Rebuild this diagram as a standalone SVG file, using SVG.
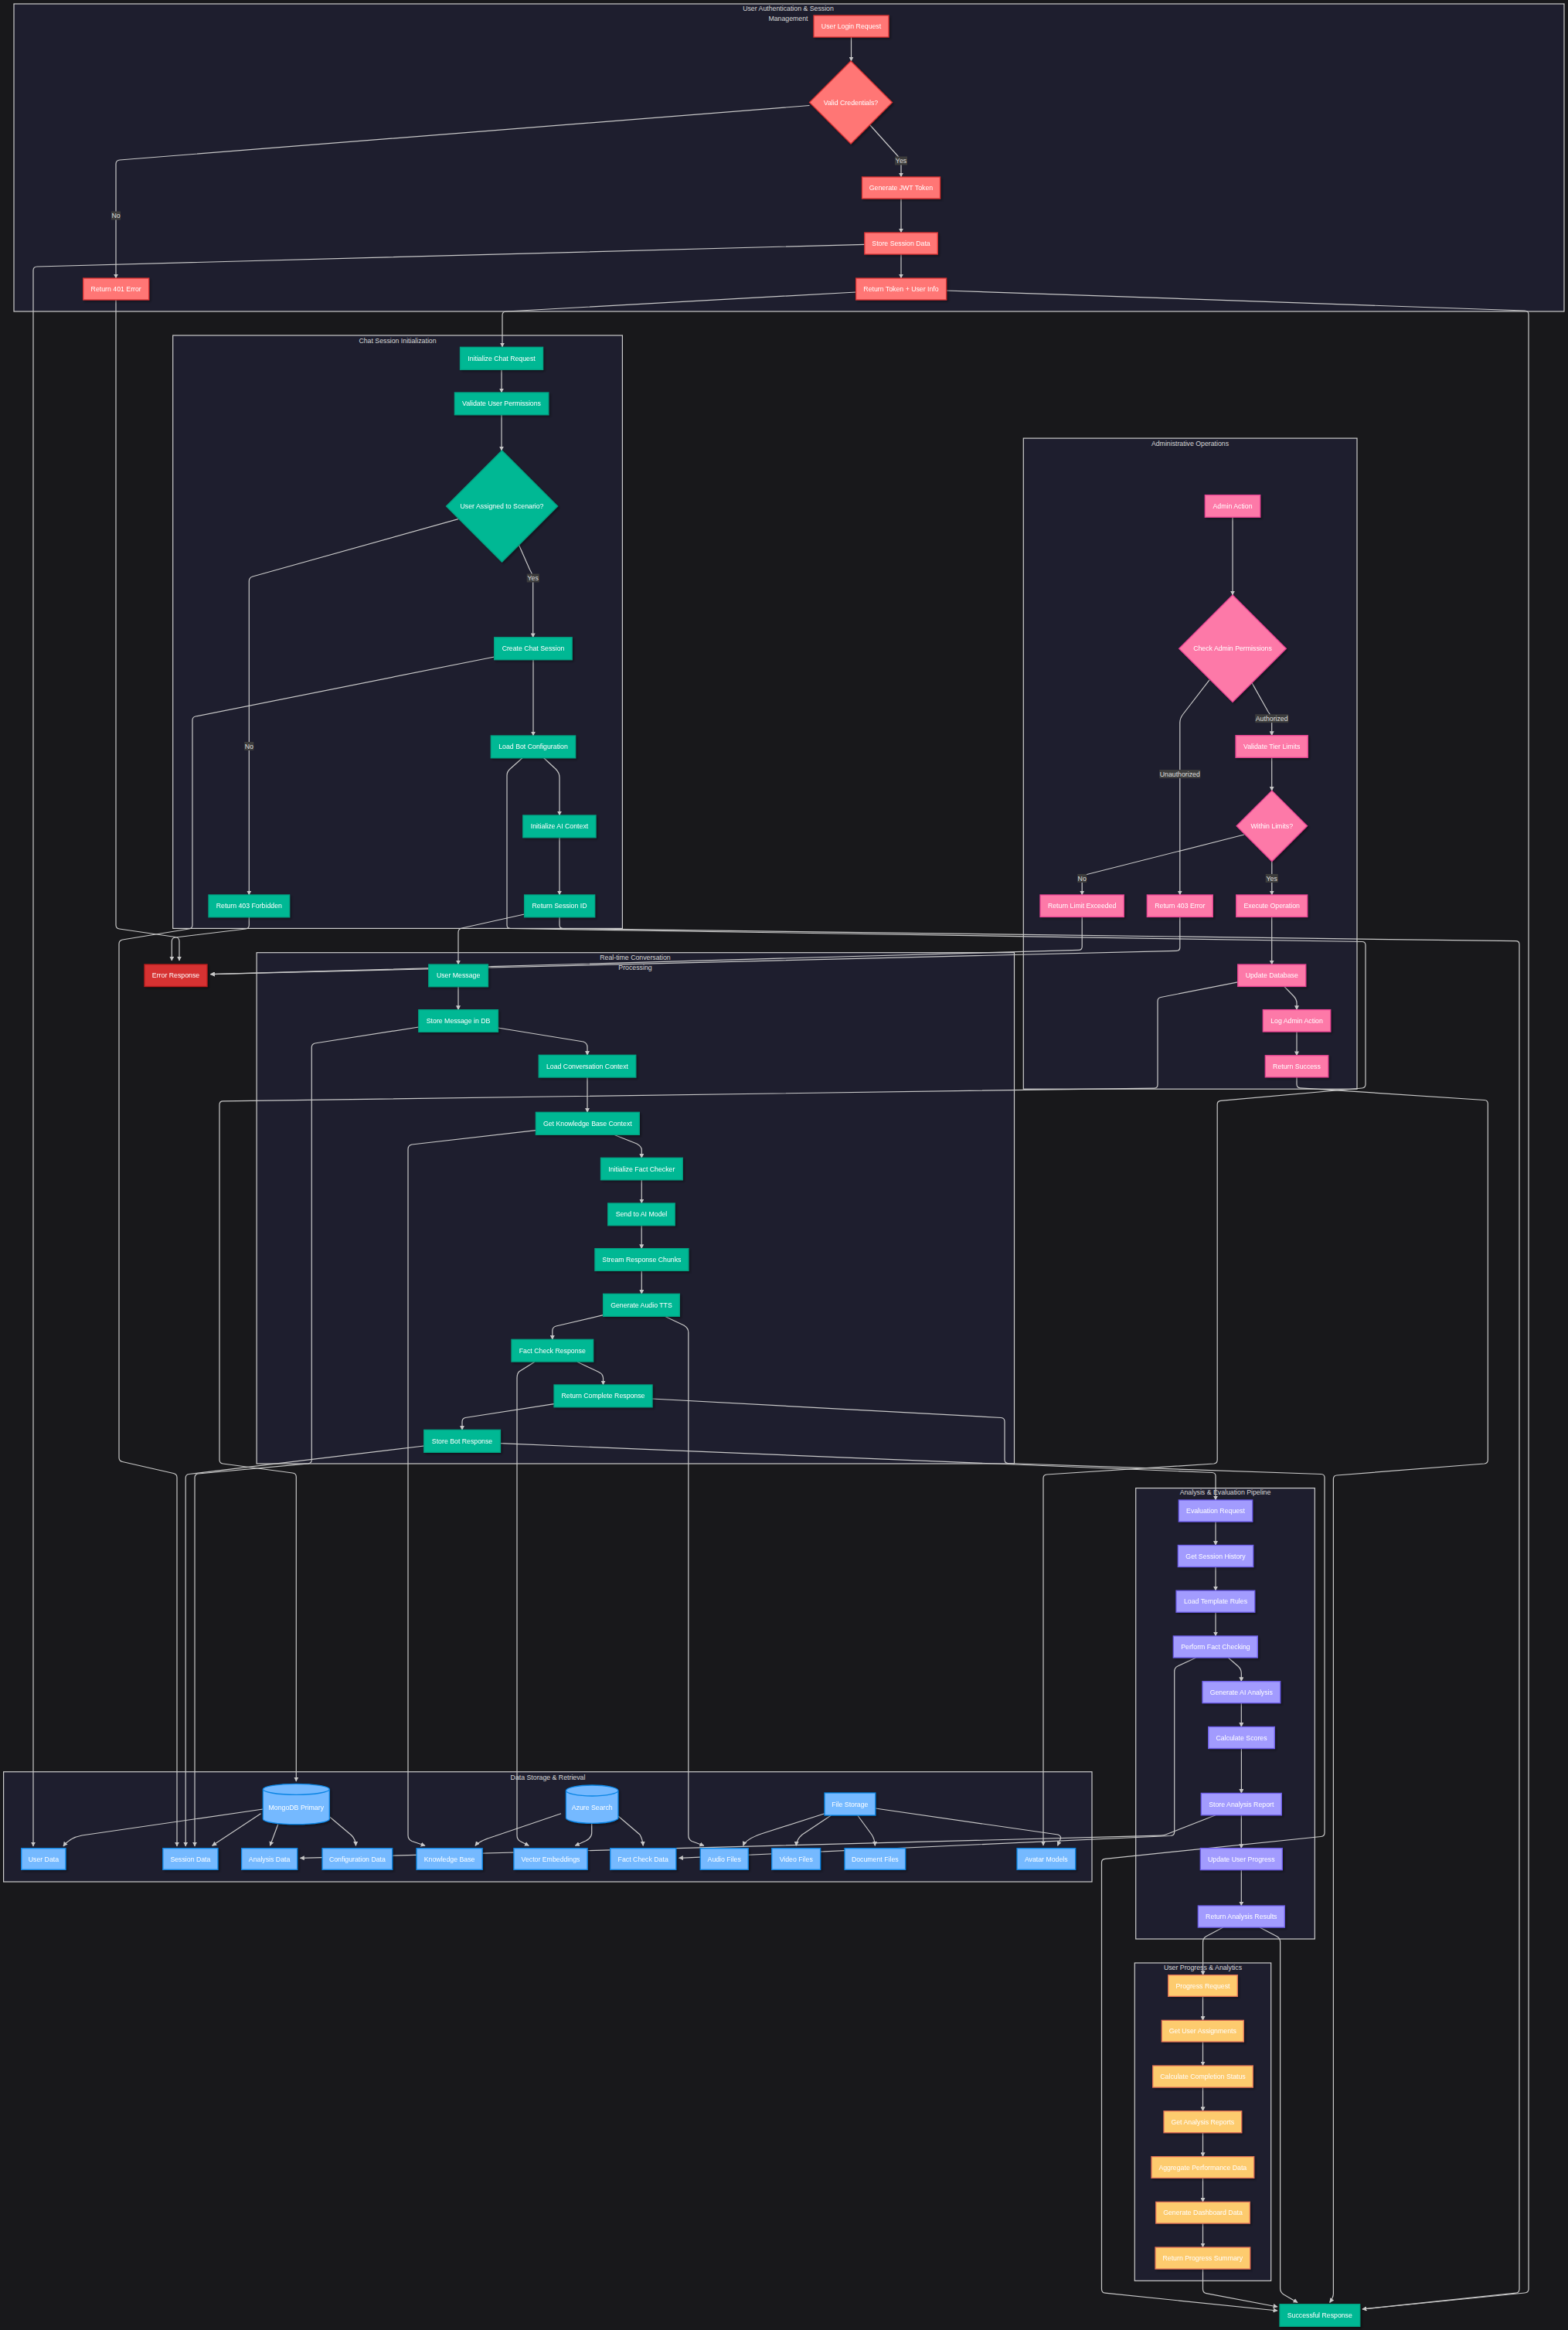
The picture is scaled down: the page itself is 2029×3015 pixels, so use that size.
<svg xmlns="http://www.w3.org/2000/svg" width="2029" height="3015" viewBox="0 0 2029 3015">
<defs>
<marker id="ah" viewBox="0 0 10 10" refX="9" refY="5" markerWidth="6" markerHeight="6" markerUnits="userSpaceOnUse" orient="auto"><path d="M0,0 L10,5 L0,10 z" fill="#c8c8c8"/></marker>
<filter id="sh" x="-20%" y="-20%" width="140%" height="140%"><feDropShadow dx="2" dy="2" stdDeviation="1.5" flood-color="#000" flood-opacity="0.35"/></filter>
</defs>
<style>
.cl{fill:#1e1e2e;stroke:#cccccc;stroke-width:1.2}
.ct{fill:#d8d8d8;font-family:"Liberation Sans",Arial,sans-serif;font-size:8.75px;text-anchor:middle;dominant-baseline:central}
.e{fill:none;stroke:#c8c8c8;stroke-width:1.2;marker-end:url(#ah)}
.t{fill:#ffffff;font-family:"Liberation Sans",Arial,sans-serif;font-size:8.75px;text-anchor:middle;dominant-baseline:central}
.n{filter:url(#sh)}
.a{fill:#ff7675;stroke:#d63031;stroke-width:1.3}
.c{fill:#00b894;stroke:#00a383;stroke-width:1.3}
.r{fill:#d63031;stroke:#b71c1c;stroke-width:1.3}
.d{fill:#fd79a8;stroke:#e84393;stroke-width:1.3}
.v{fill:#a29bfe;stroke:#6c5ce7;stroke-width:1.3}
.p{fill:#fdcb6e;stroke:#e17055;stroke-width:1.3}
.s{fill:#74b9ff;stroke:#0984e3;stroke-width:1.3}
.lb{fill:#3c3c3c}
.lt{fill:#dddddd;font-family:"Liberation Sans",Arial,sans-serif;font-size:8.75px;text-anchor:middle;dominant-baseline:central}
</style>
<rect width="2029" height="3015" fill="#18181b"/>

<g id="clusters">
<g id="cl-auth"><rect class="cl" x="18" y="5" width="2006" height="398"/><text class="ct" x="1020" y="11">User Authentication &amp; Session</text><text class="ct" x="1020" y="24">Management</text></g>
<g id="cl-chat"><rect class="cl" x="223.7" y="434" width="581.7" height="767.4"/><text class="ct" x="514.5" y="441">Chat Session Initialization</text></g>
<g id="cl-admin"><rect class="cl" x="1324.3" y="567.1" width="431.7" height="842.1"/><text class="ct" x="1540" y="573.7">Administrative Operations</text></g>
<g id="cl-rt"><rect class="cl" x="332.1" y="1232.7" width="980.4" height="661.3"/><text class="ct" x="822" y="1239">Real-time Conversation</text><text class="ct" x="822" y="1252.3">Processing</text></g>
<g id="cl-data"><rect class="cl" x="4.6" y="2292.7" width="1408.4" height="142.3"/><text class="ct" x="709" y="2300">Data Storage &amp; Retrieval</text></g>
<g id="cl-analysis"><rect class="cl" x="1469.7" y="1925.6" width="231.6" height="583.4"/><text class="ct" x="1585.5" y="1931.4">Analysis &amp; Evaluation Pipeline</text></g>
<g id="cl-progress"><rect class="cl" x="1468.3" y="2540" width="176.4" height="411.3"/><text class="ct" x="1556.5" y="2545.7">User Progress &amp; Analytics</text></g>
</g>

<g id="connectors">
<path class="e" d="M1101.5,48 V79"/>
<path class="e" d="M1126,162 L1161,201 Q1166,206 1166,212 V229"/>
<path class="e" d="M1047.5,136.5 L155,207 Q150,207.6 150,212 V360"/>
<path class="e" d="M1166,257 V301"/>
<path class="e" d="M1166,329 V360"/>
<path class="e" d="M1119,316.3 L48,345 Q43,345.2 43,350 V2389"/>
<path class="e" d="M1108,378 L655,403 Q650,403.3 650,408 V449"/>
<path class="e" d="M1224.4,376 L1973,402 Q1978,402.2 1978,407 V2962 Q1978,2966.5 1973,2967 L1763,2988"/>
<path class="e" d="M150,388 V1197 Q150,1201.4 154.5,1202 L227,1212.5 Q232,1213.3 232,1218 V1243"/>
<path class="e" d="M649,478 V508"/>
<path class="e" d="M649,536.7 V583"/>
<path class="e" d="M671.4,705 L685.5,737 Q689.7,744 689.7,750 V824.8"/>
<path class="e" d="M592.9,671.6 L327,746 Q322.3,747.4 322.3,752 V1158"/>
<path class="e" d="M690,853.6 V952"/>
<path class="e" d="M703.6,980.7 L719,995 Q724,1000 724,1006 V1055"/>
<path class="e" d="M724,1083.7 V1158"/>
<path class="e" d="M639.7,850 L253,927 Q249,928 249,932 V1197 Q249,1201.4 244.5,1202 L158.5,1216 Q154,1217 154,1221.5 V1886 Q154,1890.7 158.5,1891.5 L224.5,1906.5 Q229,1907.5 229,1912 V2389"/>
<path class="e" d="M322.3,1186.7 V1197 Q322.3,1201.4 318,1202 L227,1213 Q222.3,1213.6 222.3,1218 V1243"/>
<path class="e" d="M678.6,1183 L597.5,1201 Q593,1202 593,1206.5 V1248"/>
<path class="e" d="M724,1186.7 V1197 Q724,1201.3 728.5,1201.5 L1961.5,1217.7 Q1966,1217.8 1966,1222 V2962 Q1966,2966.7 1961.5,2967.2 L1763,2988"/>
<path class="e" d="M676,980.7 L660,995 Q656,998.5 656,1003.5 V1197 Q656,1201.4 660.5,1201.5 L1762.5,1218.5 Q1767,1218.6 1767,1223 V1403 Q1767,1407.5 1762.5,1408 L1579.5,1424.4 Q1575.2,1424.8 1575.2,1429 V1889 Q1575.2,1893.5 1570.7,1894 L1354.5,1908 Q1350,1908.4 1350,1913 V2388"/>
<path class="e" d="M593,1276.7 V1306.7"/>
<path class="e" d="M644.4,1330 L755,1348 Q760,1350 760,1355 V1365.3"/>
<path class="e" d="M760,1394 V1439.3"/>
<path class="e" d="M794.4,1468.3 L824,1480 Q830.3,1483.5 830.3,1488 V1498.3"/>
<path class="e" d="M830.3,1526.7 V1557"/>
<path class="e" d="M830.2,1585.7 V1615.7"/>
<path class="e" d="M830.3,1644.3 V1674.3"/>
<path class="e" d="M780.6,1701.7 L719.5,1716 Q714.8,1717.5 714.8,1722 V1733.3"/>
<path class="e" d="M747,1762.3 L774,1775 Q780.5,1778 780.5,1783 V1792"/>
<path class="e" d="M717,1816.7 L602,1834.5 Q598,1835.5 598,1840 V1850.3"/>
<path class="e" d="M541.8,1329 L407.5,1350 Q403.3,1351 403.3,1355.5 V1889 Q403.3,1893.3 399,1893.8 L256.5,1907 Q252,1907.6 252,1912 V2389"/>
<path class="e" d="M693.4,1462.7 L533,1481 Q528,1482 528,1487 V2375 Q528,2380 533,2382.5 L550,2388.3"/>
<path class="e" d="M691.8,1762.3 L671.5,1775 Q669,1778 669,1783 V2375 Q669,2380 673,2382.5 L684.3,2388.3"/>
<path class="e" d="M860.2,1703.3 L885,1715 Q890.8,1718.5 890.8,1724 V2375 Q890.8,2380 895,2382.5 L910.9,2388.3"/>
<path class="e" d="M844,1810 L1295.5,1834.5 Q1300,1835 1300,1839.5 V1889 Q1300,1893.3 1304.5,1893.5 L1709.5,1907.5 Q1714,1907.7 1714,1912 V2371.5 Q1714,2376 1709.5,2376.5 L1430,2405.3 Q1425.5,2405.8 1425.5,2410 V2962 Q1425.5,2966.7 1430,2967.2 L1653,2990"/>
<path class="e" d="M548.7,1871 L244.5,1907.5 Q240.2,1908 240.2,1912.5 V2389"/>
<path class="e" d="M647.4,1867.7 L1568.5,1905.5 Q1573,1905.7 1573,1910 V1941"/>
<path class="e" d="M1400.2,1186.4 V1225 Q1400.2,1229.3 1395.7,1229.4 L272.4,1260.7"/>
<path class="e" d="M1526.8,1186.4 V1226 Q1526.8,1230.3 1522.3,1230.4 L272.4,1260.7"/>
<path class="e" d="M1595,669.2 V770"/>
<path class="e" d="M1620,883.6 L1641,921 Q1645.7,927 1645.7,933 V951.7"/>
<path class="e" d="M1565,879.8 L1531,924 Q1526.8,929.5 1526.8,935 V1158"/>
<path class="e" d="M1645.7,980.2 V1023.1"/>
<path class="e" d="M1645.8,1114.5 V1158"/>
<path class="e" d="M1610,1080 L1404.5,1132 Q1400.2,1133.2 1400.2,1138 V1158"/>
<path class="e" d="M1645.7,1186.4 V1248"/>
<path class="e" d="M1661.7,1276.4 L1674,1289 Q1678,1293.5 1678,1298 V1306.6"/>
<path class="e" d="M1678,1335 V1365.8"/>
<path class="e" d="M1601.7,1270.8 L1502,1290.5 Q1498,1291.3 1498,1295.7 V1403.5 Q1498,1408 1493.5,1408.1 L288.5,1424.9 Q284,1425 284,1429.5 V1889 Q284,1893.3 288.5,1894 L378.5,1906 Q383.3,1906.6 383.3,1911 V2305"/>
<path class="e" d="M1678,1393.8 V1403 Q1678,1407.5 1682.5,1407.8 L1920.8,1423.5 Q1925.3,1423.8 1925.3,1428.3 V1889 Q1925.3,1893.5 1920.8,1894 L1729.9,1909 Q1725.4,1909.3 1725.4,1913.8 V2968 Q1725.4,2972.6 1720.7,2979.4"/>
<path class="e" d="M1573,1969 V1999.5"/>
<path class="e" d="M1573,2027.5 V2058.2"/>
<path class="e" d="M1573,2086.2 V2117"/>
<path class="e" d="M1589.3,2145 L1602,2156 Q1606.3,2160 1606.3,2165 V2175.7"/>
<path class="e" d="M1606.3,2203.7 V2234.5"/>
<path class="e" d="M1606.4,2262.5 V2320.4"/>
<path class="e" d="M1606.3,2348.8 V2391.6"/>
<path class="e" d="M1606.3,2419.6 V2466"/>
<path class="e" d="M1547.7,2145 L1524,2156 Q1519.7,2158 1519.7,2163 V2370.5 Q1519.7,2375 1515,2375.5 L878.5,2404.3"/>
<path class="e" d="M1573,2348.8 L1511,2373 Q1506.7,2375 1502,2375.2 L388.4,2404.3"/>
<path class="e" d="M1582.7,2494 L1561,2505.5 Q1556.6,2508 1556.6,2513 V2555.7"/>
<path class="e" d="M1630,2494 L1652,2505.5 Q1656.6,2508 1656.6,2513 V2961 Q1656.6,2966 1661,2969 L1679,2979.4"/>
<path class="e" d="M1556.5,2583.3 V2614.3"/>
<path class="e" d="M1556.5,2642 V2673"/>
<path class="e" d="M1556.5,2701 V2731.7"/>
<path class="e" d="M1556.5,2759.7 V2790.7"/>
<path class="e" d="M1556.5,2818.3 V2849.3"/>
<path class="e" d="M1556.5,2877 V2908"/>
<path class="e" d="M1556.5,2936 V2962 Q1556.5,2966.7 1561,2967.6 L1653,2985"/>
<path class="e" d="M340.3,2341 L106,2375 Q90,2378 82,2389"/>
<path class="e" d="M337.5,2346.7 L274.6,2388.3"/>
<path class="e" d="M359.7,2360.7 L349.5,2388.3"/>
<path class="e" d="M425.4,2350 L455,2375 Q460,2380 460.5,2388.3"/>
<path class="e" d="M726,2346.7 L640,2376 Q620,2382 615,2388.3"/>
<path class="e" d="M765.7,2359.3 V2372 Q765.7,2378 758,2382 L744.4,2388.3"/>
<path class="e" d="M800,2350 L828,2374 Q831.5,2380 832.2,2388.3"/>
<path class="e" d="M1067,2346.7 L985,2373 Q965,2380 961.7,2388.3"/>
<path class="e" d="M1075.5,2349 L1038,2374 Q1031,2380 1030.2,2388.3"/>
<path class="e" d="M1109.7,2349 L1128,2374 Q1132,2380 1132.3,2388.3"/>
<path class="e" d="M1132.8,2340 L1369,2374 Q1374,2376 1372,2380 L1368.6,2388.3"/>
</g>

<g id="edge-labels">
<g><rect class="lb" x="1158" y="202.5" width="16" height="11"/><text class="lt" x="1166" y="208">Yes</text></g>
<g><rect class="lb" x="144" y="273.5" width="12" height="11"/><text class="lt" x="150" y="279">No</text></g>
<g><rect class="lb" x="681.7" y="742.5" width="16" height="11"/><text class="lt" x="689.7" y="748">Yes</text></g>
<g><rect class="lb" x="316.3" y="960" width="12" height="11"/><text class="lt" x="322.3" y="965.5">No</text></g>
<g><rect class="lb" x="1624.2" y="924.2" width="43" height="11"/><text class="lt" x="1645.7" y="929.7">Authorized</text></g>
<g><rect class="lb" x="1500.3" y="996.1" width="53" height="11"/><text class="lt" x="1526.8" y="1001.6">Unauthorized</text></g>
<g><rect class="lb" x="1637.7" y="1131" width="16" height="11"/><text class="lt" x="1645.7" y="1136.5">Yes</text></g>
<g><rect class="lb" x="1394.2" y="1131" width="12" height="11"/><text class="lt" x="1400.2" y="1136.5">No</text></g>
</g>

<g id="nodes">
<g id="n-login" class="n"><rect class="a" x="1053" y="20" width="97" height="28"/><text class="t" x="1101.5" y="34">User Login Request</text></g>
<g id="n-valid" class="n"><polygon class="a" points="1101,79 1154.5,132.5 1101,186 1047.5,132.5"/><text class="t" x="1101" y="132.5">Valid Credentials?</text></g>
<g id="n-jwt" class="n"><rect class="a" x="1115.5" y="229" width="101" height="28"/><text class="t" x="1166" y="243">Generate JWT Token</text></g>
<g id="n-store" class="n"><rect class="a" x="1118.8" y="301" width="94.5" height="28"/><text class="t" x="1166" y="315">Store Session Data</text></g>
<g id="n-rettok" class="n"><rect class="a" x="1107.6" y="360" width="117" height="28"/><text class="t" x="1166" y="374">Return Token + User Info</text></g>
<g id="n-401" class="n"><rect class="a" x="107.7" y="360" width="85" height="28"/><text class="t" x="150.2" y="374">Return 401 Error</text></g>

<g id="n-initchat" class="n"><rect class="c" x="595.5" y="449.3" width="107" height="29"/><text class="t" x="649" y="463.8">Initialize Chat Request</text></g>
<g id="n-validperm" class="n"><rect class="c" x="588.4" y="508" width="121.4" height="28.7"/><text class="t" x="649" y="522.3">Validate User Permissions</text></g>
<g id="n-assigned" class="n"><polygon class="c" points="649.5,583 721.5,655 649.5,727 577.5,655"/><text class="t" x="649.5" y="655">User Assigned to Scenario?</text></g>
<g id="n-create" class="n"><rect class="c" x="639.7" y="824.8" width="100.5" height="28.8"/><text class="t" x="690" y="839.2">Create Chat Session</text></g>
<g id="n-loadbot" class="n"><rect class="c" x="635.3" y="952" width="109.3" height="28.7"/><text class="t" x="690" y="966.3">Load Bot Configuration</text></g>
<g id="n-initai" class="n"><rect class="c" x="676.8" y="1055" width="94.2" height="28.7"/><text class="t" x="724" y="1069.3">Initialize AI Context</text></g>
<g id="n-403f" class="n"><rect class="c" x="270" y="1158" width="104.6" height="28.7"/><text class="t" x="322.3" y="1172.3">Return 403 Forbidden</text></g>
<g id="n-sessid" class="n"><rect class="c" x="678.6" y="1158" width="91" height="28.7"/><text class="t" x="724" y="1172.3">Return Session ID</text></g>

<g id="n-err" class="n"><rect class="r" x="187" y="1248" width="81" height="28.5"/><text class="t" x="227.5" y="1262.2">Error Response</text></g>

<g id="n-usermsg" class="n"><rect class="c" x="554.8" y="1248" width="76.6" height="28.7"/><text class="t" x="593.1" y="1262.3">User Message</text></g>
<g id="n-storemsg" class="n"><rect class="c" x="541.8" y="1306.7" width="102.6" height="28.6"/><text class="t" x="593.1" y="1321">Store Message in DB</text></g>
<g id="n-loadconv" class="n"><rect class="c" x="697.2" y="1365.3" width="125.5" height="28.7"/><text class="t" x="760" y="1379.7">Load Conversation Context</text></g>
<g id="n-getkb" class="n"><rect class="c" x="693.4" y="1439.3" width="133.9" height="29"/><text class="t" x="760.3" y="1453.8">Get Knowledge Base Context</text></g>
<g id="n-initfc" class="n"><rect class="c" x="777.5" y="1498.3" width="105.7" height="28.4"/><text class="t" x="830.3" y="1512.5">Initialize Fact Checker</text></g>
<g id="n-sendai" class="n"><rect class="c" x="786.7" y="1557" width="86.5" height="28.7"/><text class="t" x="830" y="1571.3">Send to AI Model</text></g>
<g id="n-stream" class="n"><rect class="c" x="769.9" y="1615.7" width="121" height="28.6"/><text class="t" x="830.4" y="1630">Stream Response Chunks</text></g>
<g id="n-tts" class="n"><rect class="c" x="780.6" y="1674.3" width="98.7" height="29"/><text class="t" x="830" y="1688.8">Generate Audio TTS</text></g>
<g id="n-fcr" class="n"><rect class="c" x="662" y="1733.3" width="105.6" height="28.7"/><text class="t" x="714.8" y="1747.7">Fact Check Response</text></g>
<g id="n-retcomp" class="n"><rect class="c" x="717" y="1792" width="127" height="28.7"/><text class="t" x="780.5" y="1806.3">Return Complete Response</text></g>
<g id="n-storebot" class="n"><rect class="c" x="548.7" y="1850.3" width="98.7" height="29"/><text class="t" x="598" y="1864.8">Store Bot Response</text></g>

<g id="n-adminact" class="n"><rect class="d" x="1559.3" y="640.6" width="71.4" height="28.6"/><text class="t" x="1595" y="655">Admin Action</text></g>
<g id="n-checkadm" class="n"><polygon class="d" points="1595,770 1664.3,839.2 1595,908.4 1525.7,839.2"/><text class="t" x="1595" y="839.2">Check Admin Permissions</text></g>
<g id="n-validtier" class="n"><rect class="d" x="1599" y="951.7" width="93.3" height="28.5"/><text class="t" x="1645.7" y="966">Validate Tier Limits</text></g>
<g id="n-within" class="n"><polygon class="d" points="1645.8,1023.1 1691.5,1068.8 1645.8,1114.5 1600.1,1068.8"/><text class="t" x="1645.8" y="1068.8">Within Limits?</text></g>
<g id="n-retlimit" class="n"><rect class="d" x="1346" y="1158" width="108.3" height="28.4"/><text class="t" x="1400.2" y="1172.2">Return Limit Exceeded</text></g>
<g id="n-ret403e" class="n"><rect class="d" x="1484.3" y="1158" width="85" height="28.4"/><text class="t" x="1526.8" y="1172.2">Return 403 Error</text></g>
<g id="n-exec" class="n"><rect class="d" x="1599.7" y="1158" width="92" height="28.4"/><text class="t" x="1645.7" y="1172.2">Execute Operation</text></g>
<g id="n-updatedb" class="n"><rect class="d" x="1601.7" y="1248" width="88" height="28.4"/><text class="t" x="1645.7" y="1262.2">Update Database</text></g>
<g id="n-logadm" class="n"><rect class="d" x="1634.3" y="1306.6" width="87.4" height="28.4"/><text class="t" x="1678" y="1320.8">Log Admin Action</text></g>
<g id="n-retsucc" class="n"><rect class="d" x="1637.3" y="1365.8" width="81.4" height="28"/><text class="t" x="1678" y="1379.8">Return Success</text></g>

<g id="n-evalreq" class="n"><rect class="v" x="1525.3" y="1941" width="95.4" height="28"/><text class="t" x="1573" y="1955">Evaluation Request</text></g>
<g id="n-gsh" class="n"><rect class="v" x="1524.3" y="1999.5" width="97.4" height="28"/><text class="t" x="1573" y="2013.5">Get Session History</text></g>
<g id="n-ltr" class="n"><rect class="v" x="1522" y="2058.2" width="101.7" height="28"/><text class="t" x="1573" y="2072.2">Load Template Rules</text></g>
<g id="n-pfc" class="n"><rect class="v" x="1518.3" y="2117" width="109" height="28"/><text class="t" x="1573" y="2131">Perform Fact Checking</text></g>
<g id="n-gaa" class="n"><rect class="v" x="1556" y="2175.7" width="100.7" height="28"/><text class="t" x="1606.3" y="2189.7">Generate AI Analysis</text></g>
<g id="n-cs" class="n"><rect class="v" x="1563.7" y="2234.5" width="85.6" height="28"/><text class="t" x="1606.5" y="2248.5">Calculate Scores</text></g>
<g id="n-sar" class="n"><rect class="v" x="1554.3" y="2320.4" width="104" height="28.4"/><text class="t" x="1606.3" y="2334.6">Store Analysis Report</text></g>
<g id="n-uup" class="n"><rect class="v" x="1553.3" y="2391.6" width="106" height="28"/><text class="t" x="1606.3" y="2405.6">Update User Progress</text></g>
<g id="n-rar" class="n"><rect class="v" x="1550.3" y="2466" width="112" height="28"/><text class="t" x="1606.3" y="2480">Return Analysis Results</text></g>

<g id="n-preq" class="n"><rect class="p" x="1511.7" y="2555.7" width="89.6" height="27.6"/><text class="t" x="1556.5" y="2569.5">Progress Request</text></g>
<g id="n-gua" class="n"><rect class="p" x="1503.3" y="2614.3" width="106" height="27.7"/><text class="t" x="1556.3" y="2628.2">Get User Assignments</text></g>
<g id="n-ccs" class="n"><rect class="p" x="1491.7" y="2673" width="129.6" height="28"/><text class="t" x="1556.5" y="2687">Calculate Completion Status</text></g>
<g id="n-gar" class="n"><rect class="p" x="1506" y="2731.7" width="100.7" height="28"/><text class="t" x="1556.3" y="2745.7">Get Analysis Reports</text></g>
<g id="n-apd" class="n"><rect class="p" x="1490" y="2790.7" width="132.7" height="27.6"/><text class="t" x="1556.3" y="2804.5">Aggregate Performance Data</text></g>
<g id="n-gdd" class="n"><rect class="p" x="1495.7" y="2849.3" width="121.6" height="27.7"/><text class="t" x="1556.5" y="2863.2">Generate Dashboard Data</text></g>
<g id="n-rps" class="n"><rect class="p" x="1495" y="2908" width="122.7" height="28"/><text class="t" x="1556.3" y="2922">Return Progress Summary</text></g>
<g id="n-succ" class="n"><rect class="c" x="1656" y="2981.7" width="103.7" height="28.6"/><text class="t" x="1707.8" y="2996">Successful Response</text></g>

<g id="n-mongo" class="n"><path class="s" d="M340.3,2315.3 a43,7 0 0 0 86,0 a43,7 0 0 0 -86,0 v38.4 a43,7 0 0 0 86,0 v-38.4"/><text class="t" x="383.3" y="2339">MongoDB Primary</text></g>
<g id="n-azure" class="n"><path class="s" d="M732.4,2317 a33.75,7 0 0 0 67.5,0 a33.75,7 0 0 0 -67.5,0 v35.3 a33.75,7 0 0 0 67.5,0 v-35.3"/><text class="t" x="766.2" y="2339">Azure Search</text></g>
<g id="n-files" class="n"><rect class="s" x="1067" y="2320" width="65.8" height="29"/><text class="t" x="1099.9" y="2334.5">File Storage</text></g>
<g id="n-userdata" class="n"><rect class="s" x="27.7" y="2391.7" width="57.3" height="27.6"/><text class="t" x="56.4" y="2405.5">User Data</text></g>
<g id="n-sessdata" class="n"><rect class="s" x="210.8" y="2391.7" width="71.2" height="27.6"/><text class="t" x="246.4" y="2405.5">Session Data</text></g>
<g id="n-anadata" class="n"><rect class="s" x="312.6" y="2391.7" width="72.1" height="27.6"/><text class="t" x="348.6" y="2405.5">Analysis Data</text></g>
<g id="n-confdata" class="n"><rect class="s" x="417" y="2391.7" width="90.7" height="27.6"/><text class="t" x="462.4" y="2405.5">Configuration Data</text></g>
<g id="n-kb" class="n"><rect class="s" x="539" y="2391.7" width="85.2" height="27.6"/><text class="t" x="581.6" y="2405.5">Knowledge Base</text></g>
<g id="n-vec" class="n"><rect class="s" x="664.9" y="2391.7" width="95.2" height="27.6"/><text class="t" x="712.5" y="2405.5">Vector Embeddings</text></g>
<g id="n-fcd" class="n"><rect class="s" x="789.7" y="2391.7" width="85.1" height="27.6"/><text class="t" x="832.2" y="2405.5">Fact Check Data</text></g>
<g id="n-audio" class="n"><rect class="s" x="906.2" y="2391.7" width="62" height="27.6"/><text class="t" x="937.2" y="2405.5">Audio Files</text></g>
<g id="n-video" class="n"><rect class="s" x="998.7" y="2391.7" width="62.9" height="27.6"/><text class="t" x="1030.2" y="2405.5">Video Files</text></g>
<g id="n-doc" class="n"><rect class="s" x="1093" y="2391.7" width="78.6" height="27.6"/><text class="t" x="1132.3" y="2405.5">Document Files</text></g>
<g id="n-avatar" class="n"><rect class="s" x="1316" y="2391.7" width="75.7" height="27.6"/><text class="t" x="1353.8" y="2405.5">Avatar Models</text></g>
</g>
</svg>
